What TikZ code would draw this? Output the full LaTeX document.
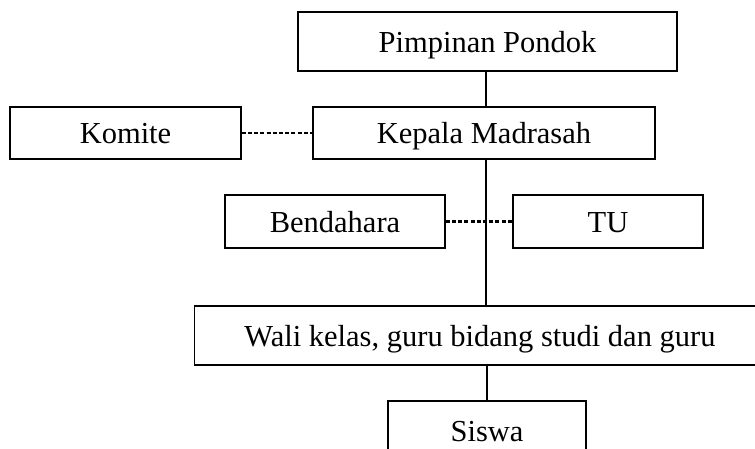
\documentclass[tikz,border=0pt]{standalone}
\usepackage{fontspec}
\setmainfont{Liberation Serif}
\begin{document}
\begin{tikzpicture}[x=1pt, y=-1pt,
		every node/.style = {shape=rectangle, draw, line width=1.6pt, inner sep=0pt, align=center,
			text height=21.5pt, text depth=0pt, font=\fontsize{30.5}{36}\selectfont},
		dotline/.style = {line width=2.4pt, dash pattern=on 4pt off 2.2pt},
		solidline/.style = {line width=1.6pt}]
		\clip (0,0) rectangle (755,448);
		\node (pimpinan) [minimum width=379pt, minimum height=59pt] at (487.5,41.5) {Pimpinan Pondok};
		\node (kepala) [minimum width=342pt, minimum height=52pt] at (484,133) {Kepala Madrasah};
		\node (komite) [minimum width=231pt, minimum height=52pt] at (125.5,133) {Komite};
		\node (bendahara) [minimum width=220pt, minimum height=53pt] at (335,221.5) {Bendahara};
		\node (tu) [minimum width=190pt, minimum height=53pt] at (608,221.5) {TU};
		\node (wali) [minimum width=571pt, minimum height=59pt] at (480,335.5) {Wali kelas, guru bidang studi dan guru};
		\node (siswa) [minimum width=198pt, minimum height=59pt] at (487,430.5) {Siswa};
		\draw[solidline] (kepala.north -| 486,0) -- (pimpinan.south -| 486,0);
		\draw[solidline] (kepala.south -| 486,0) -- (wali.north -| 486,0);
		\draw[solidline] (siswa.north) -- (siswa.north |- wali.south);
		\draw[dotline] (komite.east) -- (kepala.west);
		\draw[dotline] (bendahara.east) -- (tu.west);
	\end{tikzpicture}
\end{document}
